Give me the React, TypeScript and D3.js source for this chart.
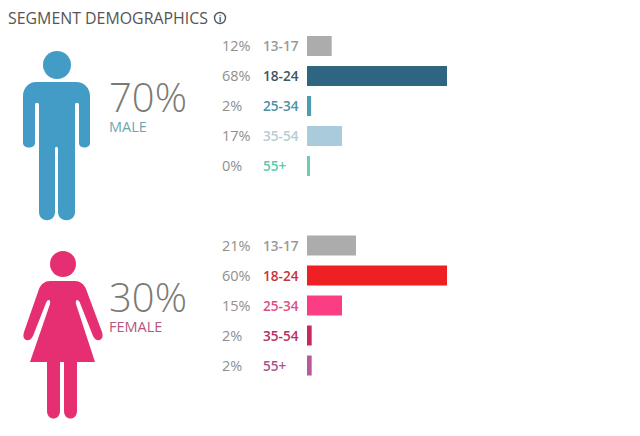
import React from 'react';
import * as d3 from 'd3';

const ageGroups = ['13-17', '18-24', '25-34', '35-54', '55+'];
const maleValues = [12, 68, 2, 17, 0];
const femaleValues = [21, 60, 15, 2, 2];
const maleBarColors = ['#acacac', '#2e6580', '#4f9bb0', '#a9cbdc', '#6bcdb4'];
const maleLabelColors = ['#9a9a9a', '#3d5560', '#4f8fa3', '#b5cdd3', '#5cc9ab'];
const femaleBarColors = ['#acacac', '#ee2024', '#fb3d83', '#c9285f', '#b85a9a'];
const femaleLabelColors = ['#9a9a9a', '#c8323a', '#dc4f86', '#b92f5f', '#a9558a'];

const width = 640;
const height = 436;
const font = '"Open Sans", sans-serif';

// icon outlines
const malePath =
  'M36,82H76C84,82 90,88 90,96V143C90,149 79,149 79,143V105C79,102 75,102 75,105V212C75,223 58,223 58,212V149C58,146 55,146 55,149V212C55,223 39,223 39,212V105C39,102 35,102 35,105V143C35,149 23,149 23,143V96C23,88 29,82 36,82Z';
const femalePath =
  'M50,281H75C80,281 84,284 86,289L102,332C105,341 96,343 93,336L80,303C78,298 75,300 76,304L95,362H77V411C77,421 64,421 64,411V362H60V411C60,421 47,421 47,411V362H30L50,304C51,300 48,298 46,303L33,336C30,343 21,341 24,332L39,289C41,284 45,281 50,281Z';

type PanelProps = {
  top: number;
  values: number[];
  barColors: string[];
  labelColors: string[];
};

// one block of five age rows
const Rows = ({ top, values, barColors, labelColors }: PanelProps) => {
  const x = d3.scaleLinear().domain([0, d3.max(values) as number]).range([0, 140]);
  const y = d3.scaleBand().domain(ageGroups).range([top, top + 140]).paddingInner(1 / 3).paddingOuter(0);

  return (
    <g>
      {ageGroups.map((age, i) => {
        const cy = (y(age) as number) + y.bandwidth() / 2;
        return (
          <g key={age}>
            <text x={222} y={cy + 5} fontSize={14.5} fill="#8f8f8f" fontFamily={font}>
              {values[i]}%
            </text>
            <text x={263} y={cy + 5} fontSize={13.6} fontWeight={600} stroke="none" fill={labelColors[i]} fontFamily={font}>
              {age}
            </text>
            <rect
              x={307}
              y={y(age)}
              width={Math.max(x(values[i]), 3)}
              height={y.bandwidth()}
              fill={barColors[i]}
            />
          </g>
        );
      })}
    </g>
  );
};

const App = () => {
  return (
    <svg
      width={width}
      height={height}
      style={{ position: 'absolute', left: 0, top: 0, background: '#fff' }}
    >
      <text x={8} y={23.5} fontSize={15.9} fill="#555" fontFamily={font}>
        SEGMENT DEMOGRAPHICS
      </text>
      <circle cx={220} cy={18} r={5.5} fill="none" stroke="#555" strokeWidth={1.4} />
      <text x={220} y={21.5} fontSize={9} fontWeight={700} textAnchor="middle" fill="#555" fontFamily={font}>
        i
      </text>

      <circle cx={57} cy={65} r={14} fill="#429cc6" />
      <path d={malePath} fill="#429cc6" />
      <text x={109} y={112} fontSize={40} fontWeight={300} fill="#7b7b76" fontFamily={font}>
        70%
      </text>
      <text x={109} y={132} fontSize={14.5} fill="#6fa5ad" fontFamily={font}>
        MALE
      </text>
      <Rows top={36} values={maleValues} barColors={maleBarColors} labelColors={maleLabelColors} />

      <circle cx={63} cy={264} r={13} fill="#e62f73" />
      <path d={femalePath} fill="#e62f73" />
      <text x={109} y={312} fontSize={40} fontWeight={300} fill="#7b7b76" fontFamily={font}>
        30%
      </text>
      <text x={109} y={332} fontSize={14.5} fill="#b8557f" fontFamily={font}>
        FEMALE
      </text>
      <Rows top={235.5} values={femaleValues} barColors={femaleBarColors} labelColors={femaleLabelColors} />
    </svg>
  );
};

export default App;
